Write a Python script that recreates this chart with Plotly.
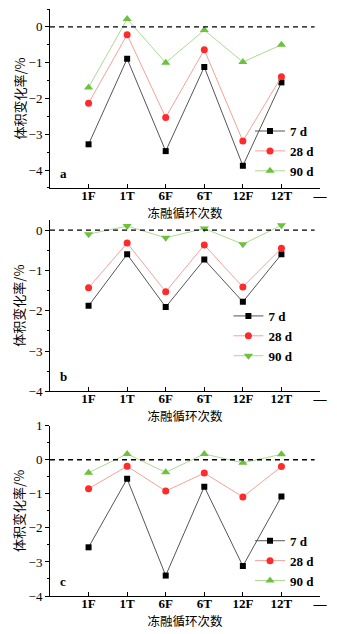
import plotly.graph_objects as go
from plotly.subplots import make_subplots

cycles = ["1F", "1T", "6F", "6T", "12F", "12T"]
tick_labels = ["1F", "1T", "6F", "6T", "12F", "12T", "—"]
ages = ["7 d", "28 d", "90 d"]

a_7d = [-3.28, -0.89, -3.47, -1.12, -3.88, -1.55]
a_28d = [-2.13, -0.22, -2.53, -0.64, -3.19, -1.39]
a_90d = [-1.69, 0.22, -1.00, -0.09, -0.98, -0.50]

b_7d = [-1.88, -0.60, -1.91, -0.73, -1.78, -0.60]
b_28d = [-1.43, -0.32, -1.53, -0.37, -1.41, -0.45]
b_90d = [-0.10, 0.10, -0.19, 0.04, -0.35, 0.12]

c_7d = [-2.57, -0.56, -3.40, -0.79, -3.12, -1.08]
c_28d = [-0.85, -0.19, -0.92, -0.39, -1.09, -0.20]
c_90d = [-0.38, 0.17, -0.37, 0.17, -0.09, 0.16]

panels = [
    ("a", [a_7d, a_28d, a_90d], "triangle-up", [-4.5, 0.5]),
    ("b", [b_7d, b_28d, b_90d], "triangle-down", [-4.0, 0.25]),
    ("c", [c_7d, c_28d, c_90d], "triangle-up", [-4.0, 1.0]),
]

xpos = list(range(1, len(cycles) + 1))
tickpos = list(range(1, len(tick_labels) + 1))

line_colors = ["#555555", "#f3a29a", "#acd995"]
marker_colors = ["#000000", "#ff2a2a", "#6cc23c"]
marker_sizes = [6, 7, 8]

serif = "Liberation Serif, Times New Roman, serif"
cjk = "Noto Sans CJK SC"

fig = make_subplots(rows=3, cols=1)

domains = [[0.6951, 1.0], [0.3487, 0.6405], [0.0, 0.2901]]
legend_pos = [(1.0, 0.758), (0.92, 0.443), (1.0, 0.06)]

layout_updates = {}
for p, (label, series, tri, yr) in enumerate(panels):
    row = p + 1
    legname = "legend" if p == 0 else f"legend{p+1}"
    symbols = ["square", "circle", tri]
    for k, vals in enumerate(series):
        fig.add_trace(
            go.Scatter(
                x=xpos,
                y=vals,
                mode="lines+markers",
                name=ages[k],
                line=dict(color=line_colors[k], width=1),
                marker=dict(symbol=symbols[k], size=marker_sizes[k], color=marker_colors[k]),
                legend=legname,
            ),
            row=row,
            col=1,
        )
    xa = "xaxis" if p == 0 else f"xaxis{p+1}"
    ya = "yaxis" if p == 0 else f"yaxis{p+1}"
    layout_updates[xa] = dict(
        domain=[0, 1],
        range=[0, 7],
        tickvals=tickpos,
        ticktext=tick_labels,
        showline=True,
        linecolor="black",
        linewidth=1,
        ticks="inside",
        ticklen=4,
        tickcolor="black",
        showgrid=False,
        zeroline=False,
        automargin=False,
        ticklabelstandoff=-5,
        tickfont=dict(family=serif, size=13, color="black", weight="bold"),
        title=dict(text="冻融循环次数", font=dict(family=cjk, size=12.5, color="black"), standoff=0),
    )
    layout_updates[ya] = dict(
        domain=domains[p],
        range=yr,
        dtick=1,
        tick0=0,
        showline=True,
        linecolor="black",
        linewidth=1,
        ticks="outside",
        ticklen=4,
        tickcolor="black",
        showgrid=False,
        zeroline=False,
        automargin=False,
        minor=dict(dtick=0.5, ticks="outside", ticklen=2, tickcolor="black"),
        tickfont=dict(family=serif, size=13, color="black"),
        title=dict(text="体积变化率/%", font=dict(family=cjk, size=13, color="black"), standoff=0),
    )
    lx, ly = legend_pos[p]
    layout_updates[legname] = dict(
        x=lx,
        y=ly,
        xanchor="right",
        yanchor="middle",
        bgcolor="rgba(0,0,0,0)",
        font=dict(family=serif, size=13, color="black", weight="bold"),
        itemwidth=30,
        tracegroupgap=0,
    )
    fig.add_shape(
        type="line",
        xref=f"x{'' if p == 0 else p+1} domain",
        yref=f"y{'' if p == 0 else p+1}",
        x0=0, x1=0.98, y0=0, y1=0,
        line=dict(color="black", width=1.3, dash="5px,4px"),
    )
    fig.add_annotation(
        text=label,
        xref=f"x{'' if p == 0 else p+1} domain",
        yref=f"y{'' if p == 0 else p+1} domain",
        x=0.03, y=0.03, xanchor="left", yanchor="bottom",
        showarrow=False,
        font=dict(family=serif, size=13, color="black", weight="bold"),
    )

fig.update_layout(**layout_updates)
fig.update_layout(
    width=337,
    height=634,
    margin=dict(l=50, r=17, t=9, b=38),
    paper_bgcolor="white",
    plot_bgcolor="white",
    showlegend=True,
)

fig.write_html("out.html")
